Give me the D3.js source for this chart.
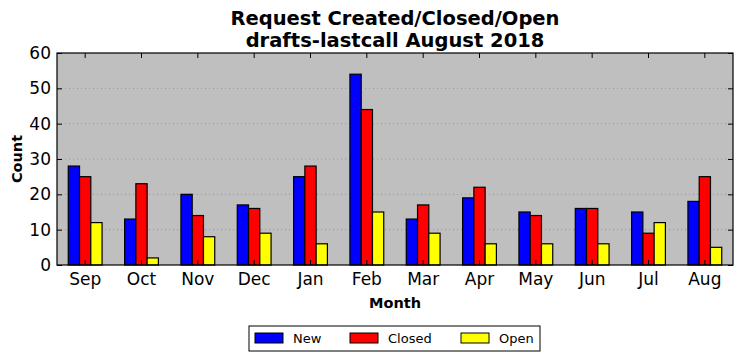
<!DOCTYPE html>
<html>
<head>
<meta charset="utf-8">
<script src="https://cdn.jsdelivr.net/npm/d3@7"></script>
<style>
  body { margin: 0; background: #fff; }
  svg { font-family: "DejaVu Sans", sans-serif; }
</style>
</head>
<body>
<svg id="chart"></svg>
<script>
// chart data
const months = ["Sep", "Oct", "Nov", "Dec", "Jan", "Feb", "Mar", "Apr", "May", "Jun", "Jul", "Aug"];
const newCounts = [28, 13, 20, 17, 25, 54, 13, 19, 15, 16, 15, 18];
const closedCounts = [25, 23, 14, 16, 28, 44, 17, 22, 14, 16, 9, 25];
const openCounts = [12, 2, 8, 9, 6, 15, 9, 6, 6, 6, 12, 5];
const seriesNames = ["New", "Closed", "Open"];
const seriesColors = ["#0000ff", "#ff0000", "#ffff00"];
const yTicks = [0, 10, 20, 30, 40, 50, 60];

const width = 742;
const height = 361;
const margin = { top: 53, right: 9, bottom: 96, left: 57 };
const plotW = width - margin.left - margin.right;
const plotH = height - margin.top - margin.bottom;

const svg = d3.select("#chart").attr("width", width).attr("height", height);

const x = d3.scaleBand().domain(months).range([0, plotW]).padding(0);
const series = seriesNames.map((name, i) => ({ name, values: [newCounts, closedCounts, openCounts][i] }));
const xInner = d3.scaleBand().domain(seriesNames)
  .range([x.bandwidth() * 0.2, x.bandwidth() * 0.8]);
const y = d3.scaleLinear().domain([0, 60]).range([plotH, 0]);

const g = svg.append("g").attr("transform", `translate(${margin.left},${margin.top})`);

// background
g.append("rect").attr("width", plotW).attr("height", plotH).attr("fill", "#bfbfbf");

// dotted grid
g.selectAll(".grid").data(yTicks.slice(1, -1)).join("line")
  .attr("x1", 0).attr("x2", plotW)
  .attr("y1", d => y(d)).attr("y2", d => y(d))
  .attr("stroke", "#8a8a8a").attr("stroke-width", 0.8)
  .attr("stroke-dasharray", "1,3");

// bars
series.forEach((s, si) => {
  g.selectAll(".bar-" + si).data(s.values).join("rect")
    .attr("x", (d, i) => x(months[i]) + xInner(s.name))
    .attr("y", d => y(d))
    .attr("width", xInner.bandwidth())
    .attr("height", d => plotH - y(d))
    .attr("fill", seriesColors[si])
    .attr("stroke", "#000").attr("stroke-width", 1.2);
});

// axes with inward ticks
const tickLen = 5;
const xAxisB = d3.axisBottom(x).tickSizeInner(-tickLen).tickSizeOuter(0).tickPadding(8);
const xAxisT = d3.axisTop(x).tickSizeInner(-tickLen).tickSizeOuter(0).tickFormat("");
const yAxisL = d3.axisLeft(y).tickValues(yTicks).tickSizeInner(-tickLen).tickSizeOuter(0).tickPadding(6);
const yAxisR = d3.axisRight(y).tickValues(yTicks).tickSizeInner(-tickLen).tickSizeOuter(0).tickFormat("");

function styleAxis(sel) {
  sel.attr("font-size", null).attr("font-family", null);
  sel.select(".domain").remove();
  sel.selectAll("line").attr("stroke", "#000");
  sel.selectAll("text").attr("fill", "#000").style("font-size", "17px");
}

g.append("g").attr("transform", `translate(0,${plotH})`).call(xAxisB).call(styleAxis);
g.append("g").call(xAxisT).call(styleAxis);
g.append("g").call(yAxisL).call(styleAxis);
g.append("g").attr("transform", `translate(${plotW},0)`).call(yAxisR).call(styleAxis);

// frame
g.append("rect").attr("width", plotW).attr("height", plotH)
  .attr("fill", "none").attr("stroke", "#000").attr("stroke-width", 1.2);

// title
svg.append("text").attr("x", margin.left + plotW / 2).attr("y", 25)
  .attr("text-anchor", "middle").style("font-size", "19.5px").style("font-weight", "bold")
  .text("Request Created/Closed/Open");
svg.append("text").attr("x", margin.left + plotW / 2).attr("y", 47)
  .attr("text-anchor", "middle").style("font-size", "19.5px").style("font-weight", "bold")
  .text("drafts-lastcall August 2018");

// axis labels
svg.append("text").attr("x", margin.left + plotW / 2).attr("y", 308)
  .attr("text-anchor", "middle").style("font-size", "14.5px").style("font-weight", "bold")
  .text("Month");
svg.append("text")
  .attr("transform", `translate(22,${margin.top + plotH / 2}) rotate(-90)`)
  .attr("text-anchor", "middle").style("font-size", "14.5px").style("font-weight", "bold")
  .text("Count");

// legend
const legend = svg.append("g").attr("transform", "translate(249,326)");
legend.append("rect").attr("width", 291).attr("height", 25)
  .attr("fill", "#fff").attr("stroke", "#000").attr("stroke-width", 1);
const legendX = [6, 101, 212];
seriesNames.forEach((name, i) => {
  legend.append("rect").attr("x", legendX[i]).attr("y", 7)
    .attr("width", 28).attr("height", 10)
    .attr("fill", seriesColors[i]).attr("stroke", "#000").attr("stroke-width", 1);
  legend.append("text").attr("x", legendX[i] + 38).attr("y", 17)
    .style("font-size", "13px").text(name);
});
</script>
</body>
</html>
